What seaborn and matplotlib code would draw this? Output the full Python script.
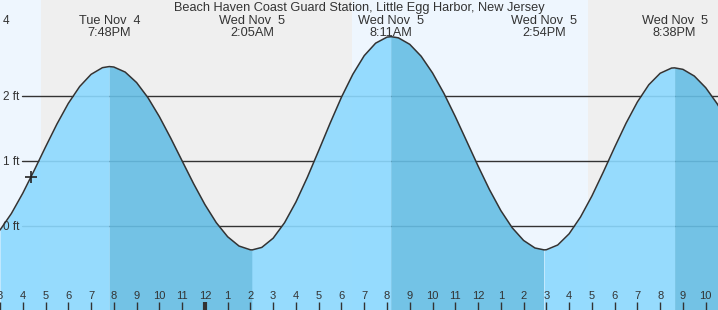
import numpy as np
import pandas as pd
import matplotlib
matplotlib.use("Agg")
import matplotlib.pyplot as plt
import matplotlib.transforms as mtransforms
import seaborn as sns

# ---------------- data (hours counted from Tue Nov 4, 00:00) ----------------
title = "Beach Haven Coast Guard Station, Little Egg Harbor, New Jersey"

curve_hours = [15.0, 15.5, 16.0, 16.5, 17.0, 17.5, 18.0, 18.5, 19.0, 19.5,
               20.0, 20.5, 21.0, 21.5, 22.0, 22.5, 23.0, 23.5, 24.0, 24.5,
               25.0, 25.5, 26.0, 26.5, 27.0, 27.5, 28.0, 28.5, 29.0, 29.5,
               30.0, 30.5, 31.0, 31.5, 32.0, 32.5, 33.0, 33.5, 34.0, 34.5,
               35.0, 35.5, 36.0, 36.5, 37.0, 37.5, 38.0, 38.5, 39.0, 39.5,
               40.0, 40.5, 41.0, 41.5, 42.0, 42.5, 43.0, 43.5, 44.0, 44.5,
               45.0, 45.5, 46.0, 46.5, 47.0]
curve_ft = [-0.065, 0.189, 0.501, 0.851, 1.213, 1.565, 1.883, 2.143, 2.330, 2.433,
            2.443, 2.365, 2.204, 1.971, 1.680, 1.349, 0.999, 0.651, 0.328, 0.049,
            -0.168, -0.311, -0.369, -0.332, -0.190, 0.048, 0.367, 0.746, 1.158, 1.578,
            1.979, 2.332, 2.618, 2.810, 2.903, 2.892, 2.792, 2.609, 2.352, 2.038,
            1.681, 1.302, 0.921, 0.558, 0.235, -0.030, -0.225, -0.341, -0.368, -0.295,
            -0.123, 0.135, 0.458, 0.826, 1.209, 1.578, 1.906, 2.170, 2.347, 2.427,
            2.407, 2.304, 2.125, 1.880, 1.585]

extreme_hours = [19.80, 26.083, 32.183, 38.90, 44.633]
extreme_ft = [2.45, -0.37, 2.91, -0.37, 2.43]
extreme_kind = ["high", "low", "high", "low", "high"]
extreme_dates = ["Tue Nov  4", "Wed Nov  5", "Wed Nov  5", "Wed Nov  5", "Wed Nov  5"]
extreme_times = ["7:48PM", "2:05AM", "8:11AM", "2:54PM", "8:38PM"]

night_start = [16.82, 40.82]
night_end = [30.46, 48.0]

tick_hours = list(range(15, 47))
tick_labels = ["3", "4", "5", "6", "7", "8", "9", "10", "11", "12",
               "1", "2", "3", "4", "5", "6", "7", "8", "9", "10", "11", "12",
               "1", "2", "3", "4", "5", "6", "7", "8", "9", "10"]
midnight_hour = 24

grid_ft = [0, 1, 2]
grid_labels = ["0 ft", "1 ft", "2 ft"]

now_hour = 16.35
now_ft = 0.75

# ---------------- styling ----------------
X_MIN, X_MAX = 15.02, 46.54
Y_MIN, Y_MAX = -1.295, 3.474
DAY_BG = "#eef6fe"
NIGHT_BG = "#efefef"
RISE_FILL = "#8cd9ff"
FALL_FILL = "#66bee4"
INK = "#333333"
FS_TXT = 9.2
FS_TICK = 8.0
FS_Y = 8.5

sns.set_style("white")
plt.rcParams["font.family"] = ["Liberation Sans", "DejaVu Sans"]

fig = plt.figure(figsize=(7.18, 3.10), dpi=100)
ax = fig.add_axes([0, 0, 1, 1])
ax.set_xlim(X_MIN, X_MAX)
ax.set_ylim(Y_MIN, Y_MAX)
ax.set_facecolor(DAY_BG)
for s in ax.spines.values():
    s.set_visible(False)

# night bands
for a, b in zip(night_start, night_end):
    ax.axvspan(a, b, color=NIGHT_BG, lw=0, zorder=0.3)

# grid lines (start after the labels)
for lvl in grid_ft:
    ax.axhline(lvl, xmin=22 / 718, xmax=1, color=INK, lw=1, zorder=0.8)

# combined tide series
df = pd.DataFrame({"hour": curve_hours + extreme_hours,
                   "ft": curve_ft + extreme_ft}).sort_values("hour").reset_index(drop=True)
t = df["hour"].to_numpy()
h = df["ft"].to_numpy()

# fills: rising (light) before each high, falling (dark) before each low
bounds = [t.min()] + extreme_hours + [t.max()]
kinds = extreme_kind + ["low" if extreme_kind[-1] == "high" else "high"]
for i in range(len(bounds) - 1):
    a, b = bounds[i], bounds[i + 1]
    col = RISE_FILL if kinds[i] == "high" else FALL_FILL
    m = (t >= a) & (t <= b)
    ax.fill_between(t[m], h[m], Y_MIN - 1, color=col, alpha=0.9, lw=0, zorder=1)

sns.lineplot(data=df, x="hour", y="ft", ax=ax, color=INK, lw=1.1, zorder=3,
             estimator=None, sort=True, solid_joinstyle="round")
ax.set_xlabel("")
ax.set_ylabel("")

# "now" marker
ax.plot([now_hour], [now_ft], marker="+", ms=9, mew=1.2, color="#222222",
        ls="none", zorder=4)

# x ticks inside the plot
ax.set_xticks(tick_hours)
ax.set_xticklabels(tick_labels)
ax.set_yticks([])
ax.set_axisbelow(False)
ax.tick_params(axis="x", bottom=True, direction="in", length=5.8, width=1,
               color=INK, labelsize=FS_TICK, labelcolor=INK, pad=-13.8)
for tk, hr in zip(ax.xaxis.get_major_ticks(), tick_hours):
    tk.tick1line.set_zorder(6)
    if hr == midnight_hour:
        tk.tick1line.set_markeredgewidth(3)

# y level labels
ytrans = mtransforms.blended_transform_factory(ax.transAxes, ax.transData)
for lvl, lab in zip(grid_ft, grid_labels):
    ax.text(3 / 718, lvl - 0.07, lab, transform=ytrans, ha="left",
            va="baseline", fontsize=FS_Y, color=INK, zorder=5)
ax.text(3 / 718, 1 - 24 / 310, "4", transform=ax.transAxes, ha="left",
        va="baseline", fontsize=FS_Y, color=INK)

# extreme labels
xtrans = mtransforms.blended_transform_factory(ax.transData, ax.transAxes)
for hr, d, tm in zip(extreme_hours, extreme_dates, extreme_times):
    ax.text(hr, 1 - 24.5 / 310, d, transform=xtrans, ha="center",
            va="baseline", fontsize=FS_TXT, color=INK, zorder=5)
    ax.text(hr, 1 - 35.5 / 310, tm, transform=xtrans, ha="center",
            va="baseline", fontsize=FS_TXT, color=INK, zorder=5)

fig.text(0.5, 1 - 11.5 / 310, title, ha="center", va="baseline",
         fontsize=FS_TXT, color=INK)

fig.savefig("out.png", dpi=100)
